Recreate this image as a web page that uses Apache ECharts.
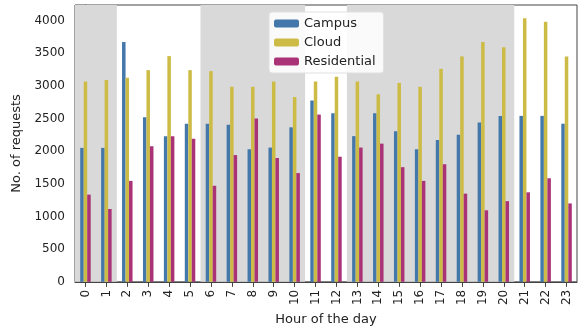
<!DOCTYPE html>
<html>
<head>
<meta charset="utf-8">
<script src="https://cdn.jsdelivr.net/npm/echarts@6/dist/echarts.min.js"></script>
<style>
  html, body { margin: 0; padding: 0; background: #fff; }
  #chart { width: 582px; height: 331px; }
</style>
</head>
<body>
<div id="chart"></div>
<script>
// Requests per hour of the day, by network type
const hours = ['0','1','2','3','4','5','6','7','8','9','10','11','12','13','14','15','16','17','18','19','20','21','22','23'];
const campus = [2050, 2050, 3670, 2520, 2230, 2420, 2420, 2405, 2030, 2055, 2365, 2775, 2580, 2230, 2580, 2305, 2030, 2170, 2250, 2440, 2540, 2540, 2540, 2420];
const cloud = [3065, 3090, 3125, 3240, 3455, 3240, 3225, 2985, 2985, 3065, 2830, 3065, 3140, 3065, 2870, 3045, 2985, 3260, 3450, 3670, 3590, 4035, 3980, 3450];
const residential = [1335, 1115, 1545, 2075, 2230, 2190, 1470, 1940, 2500, 1895, 1665, 2560, 1915, 2055, 2115, 1755, 1545, 1800, 1350, 1095, 1235, 1370, 1585, 1200];
const yTicks = [0, 500, 1000, 1500, 2000, 2500, 3000, 3500, 4000];
// shaded hour ranges (bar positions, edges halfway between hours)
const shadedRanges = [[-0.5, 1.5], [5.5, 10.5], [12.5, 20.5]];

const FONT = 'DejaVu Sans';
const chart = echarts.init(document.getElementById('chart'), null, { renderer: 'canvas' });

const barCommon = {
  type: 'bar',
  barWidth: 3.5,
  barGap: '0%',
  xAxisIndex: 0,
  yAxisIndex: 0,
  z: 3
};

chart.setOption({
  animation: false,
  textStyle: { fontFamily: FONT },
  grid: {
    left: 75, right: 5, top: 5, bottom: 45,
    show: true, borderColor: '#444', borderWidth: 1, backgroundColor: 'transparent'
  },
  legend: {
    orient: 'vertical',
    left: 269, top: 12,
    padding: [5, 8, 5, 5],
    itemWidth: 25, itemHeight: 8, itemGap: 6,
    backgroundColor: 'rgba(255,255,255,0.85)',
    borderColor: '#e0e0e0', borderWidth: 1, borderRadius: 3,
    textStyle: { fontFamily: FONT, fontSize: 13, color: '#222' },
    data: ['Campus', 'Cloud', 'Residential']
  },
  xAxis: [
    {
      type: 'category',
      data: hours,
      name: 'Hour of the day',
      nameLocation: 'middle',
      nameGap: 29,
      nameTextStyle: { fontFamily: FONT, fontSize: 13, color: '#222' },
      axisLine: { show: true, lineStyle: { color: '#444' } },
      axisTick: { show: true, alignWithLabel: true, length: 5, lineStyle: { color: '#444' } },
      axisLabel: { rotate: 90, fontFamily: FONT, fontSize: 12, color: '#222', margin: 8 },
      splitLine: { show: false }
    },
    {
      type: 'value',
      min: -0.5, max: 23.5,
      show: false,
      splitLine: { show: false }
    }
  ],
  yAxis: {
    type: 'value',
    min: 0, max: 4237, interval: 500,
    name: 'No. of requests',
    nameLocation: 'middle',
    nameGap: 50,
    nameTextStyle: { fontFamily: FONT, fontSize: 13, color: '#222' },
    axisLine: { show: true, lineStyle: { color: '#444' } },
    axisTick: { show: true, length: 5, lineStyle: { color: '#444' }, customValues: yTicks },
    axisLabel: {
      fontFamily: FONT, fontSize: 12, color: '#222', margin: 10,
      customValues: yTicks,
      formatter: v => String(v)
    },
    splitLine: { show: false }
  },
  series: [
    {
      name: 'shade',
      type: 'scatter',
      xAxisIndex: 1,
      yAxisIndex: 0,
      data: [],
      silent: true,
      z: 1,
      markArea: {
        silent: true,
        itemStyle: { color: '#d9d9d9' },
        data: shadedRanges.map(r => [{ xAxis: r[0] }, { xAxis: r[1] }])
      }
    },
    Object.assign({ name: 'Campus', data: campus, itemStyle: { color: '#4477AA' } }, barCommon),
    Object.assign({ name: 'Cloud', data: cloud, itemStyle: { color: '#CCBB44' } }, barCommon),
    Object.assign({ name: 'Residential', data: residential, itemStyle: { color: '#AA3377' } }, barCommon)
  ]
});
</script>
</body>
</html>
